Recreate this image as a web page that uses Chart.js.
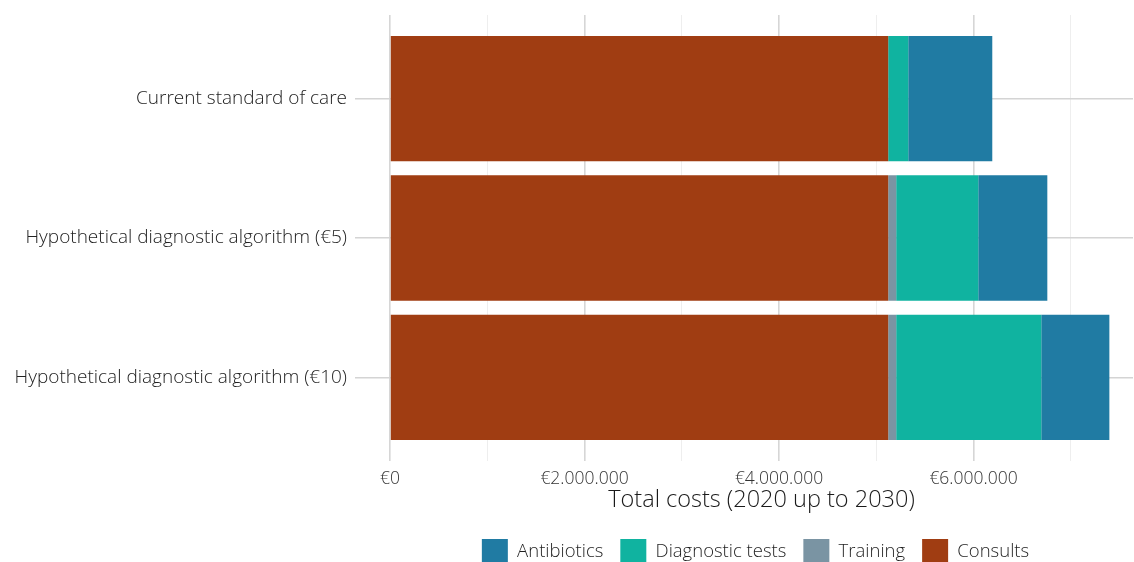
<!DOCTYPE html>
<html>
<head>
<meta charset="utf-8">
<script src="https://cdn.jsdelivr.net/npm/chart.js@4.4.0/dist/chart.umd.min.js"></script>
<style>
    html, body { margin: 0; padding: 0; background: #fff; overflow: hidden; }
    #wrap { position: relative; width: 1134px; height: 575px; }
</style>
</head>
<body>
<div id="wrap"><canvas id="costChart"></canvas></div>
<script>
const scenarios = [
    'Current standard of care',
    'Hypothetical diagnostic algorithm (€5)',
    'Hypothetical diagnostic algorithm (€10)'
];
const consults = [5123000, 5123000, 5123000];
const training = [0, 82000, 82000];
const diagnosticTests = [206000, 844000, 1492000];
const antibiotics = [864000, 710000, 700000];
const xTickValues = [0, 2000000, 4000000, 6000000];

const FONT = '"Open Sans", Lato, sans-serif';

function euro(v) {
    return '€' + v.toFixed(0).replace(/\B(?=(\d{3})+(?!\d))/g, '.');
}

// rows go at 1, 2, 3 on a linear axis so the panel can extend like ggplot's
function toPoints(values) {
    return values.map((v, i) => ({ x: v, y: i + 1 }));
}

const datasets = [
    { label: 'Consults', data: toPoints(consults), backgroundColor: '#A03D12' },
    { label: 'Training', data: toPoints(training), backgroundColor: '#7A94A3' },
    { label: 'Diagnostic tests', data: toPoints(diagnosticTests), backgroundColor: '#10B3A0' },
    { label: 'Antibiotics', data: toPoints(antibiotics), backgroundColor: '#207BA3' }
].map(d => Object.assign(d, {
    borderWidth: 0,
    categoryPercentage: 1,
    barPercentage: 0.9
}));

// move the legend so it is centred under the panel, not the canvas
const shiftLegend = {
    id: 'shiftLegend',
    afterLayout(chart) {
        chart.legend.left = 378;
    }
};

new Chart(document.getElementById('costChart'), {
    type: 'bar',
    data: { datasets: datasets },
    plugins: [shiftLegend],
    options: {
        indexAxis: 'y',
        responsive: true,
        maintainAspectRatio: false,
        animation: false,
        layout: { padding: { top: 15, right: 1, bottom: 0, left: 0 } },
        plugins: {
            tooltip: { enabled: false },
            legend: {
                position: 'bottom',
                reverse: true,
                labels: {
                    boxWidth: 26,
                    boxHeight: 26,
                    padding: 17,
                    color: '#1f1f1f',
                    font: { family: FONT, size: 18.5, weight: 300 }
                }
            }
        },
        scales: {
            x: {
                type: 'linear',
                stacked: true,
                min: 0,
                max: 7640000,
                afterBuildTicks: axis => {
                    axis.ticks = [0, 1, 2, 3, 4, 5, 6, 7].map(m => ({ value: m * 1000000 }));
                },
                afterFit: scale => { scale.height = 61; },
                border: { display: false },
                grid: {
                    drawTicks: false,
                    color: ctx => xTickValues.includes(ctx.tick.value) ? '#d6d6d6' : '#eeeeee',
                    lineWidth: ctx => xTickValues.includes(ctx.tick.value) ? 1.6 : 1
                },
                ticks: {
                    padding: 8,
                    color: '#333',
                    font: { family: FONT, size: 17.5, weight: 300 },
                    callback: v => xTickValues.includes(v) ? euro(v) : ''
                },
                title: {
                    display: true,
                    text: 'Total costs (2020 up to 2030)',
                    color: '#1a1a1a',
                    font: { family: FONT, size: 23.5, weight: 300 },
                    padding: { top: 0, bottom: 8 }
                }
            },
            y: {
                type: 'linear',
                stacked: true,
                reverse: true,
                offset: false,
                min: 0.4,
                max: 3.6,
                afterBuildTicks: axis => {
                    axis.ticks = scenarios.map((s, i) => ({ value: i + 1 }));
                },
                afterFit: scale => {
                    scale.width = 390;
                    scale.paddingTop = 0;
                    scale.paddingBottom = 0;
                },
                border: { display: false },
                grid: {
                    offset: false,
                    color: '#d4d4d4',
                    lineWidth: 1.6,
                    tickLength: 35,
                    tickColor: '#d4d4d4'
                },
                ticks: {
                    padding: 8,
                    color: '#222',
                    font: { family: FONT, size: 19, weight: 300 },
                    callback: v => scenarios[v - 1] || ''
                }
            }
        }
    }
});
</script>
</body>
</html>
